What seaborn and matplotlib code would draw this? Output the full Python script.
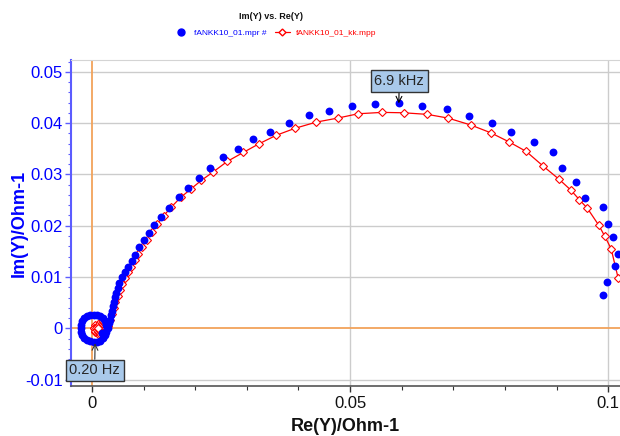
import matplotlib
matplotlib.use("Agg")
import matplotlib.pyplot as plt
from matplotlib.lines import Line2D
from matplotlib.ticker import MultipleLocator, FuncFormatter
import seaborn as sns
import pandas as pd

# ---- data: measured admittance (blue) ----
re_meas = [0.09909, 0.09986, 0.10136, 0.10200, 0.10103, 0.10000, 0.09909, 0.09560,
           0.09386, 0.09114, 0.08928, 0.08560, 0.08120, 0.07758, 0.07312, 0.06874,
           0.06395, 0.05944, 0.05490, 0.05045, 0.04599, 0.04205, 0.03818, 0.03450,
           0.03126, 0.02824, 0.02533, 0.02287, 0.02068, 0.01866, 0.01686, 0.01498,
           0.01337, 0.01207, 0.01099, 0.01008, 0.00911, 0.00833, 0.00769, 0.00703,
           0.00640, 0.00587, 0.00523, 0.00494, 0.00465, 0.00446, 0.00426, 0.00407,
           0.00388, 0.00368, 0.00349, 0.00330,
           0.00281, 0.00272, 0.00247, 0.00207, 0.00155, 0.00094, 0.00029, -0.00036,
           -0.00097, -0.00149, -0.00189, -0.00214, -0.00223, -0.00214, -0.00189, -0.00149,
           -0.00097, -0.00036, 0.00029, 0.00094, 0.00155, 0.00207, 0.00247, 0.00272,
           0.00300, 0.00310]
im_meas = [0.00649, 0.00902, 0.01208, 0.01454, 0.01773, 0.02026, 0.02364, 0.02533,
           0.02845, 0.03118, 0.03435, 0.03624, 0.03831, 0.04006, 0.04143, 0.04279,
           0.04326, 0.04384, 0.04371, 0.04326, 0.04234, 0.04150, 0.04006, 0.03831,
           0.03683, 0.03494, 0.03332, 0.03118, 0.02929, 0.02734, 0.02558, 0.02344,
           0.02169, 0.02013, 0.01851, 0.01715, 0.01578, 0.01434, 0.01317, 0.01200,
           0.01097, 0.00994, 0.00877, 0.00785, 0.00698, 0.00610, 0.00522, 0.00435,
           0.00347, 0.00259, 0.00171, 0.00103,
           0.00006, -0.00062, -0.00131, -0.00189, -0.00238, -0.00257, -0.00257, -0.00247,
           -0.00218, -0.00179, -0.00121, -0.00062, 0.00006, 0.00074, 0.00142, 0.00201,
           0.00240, 0.00269, 0.00269, 0.00259, 0.00240, 0.00201, 0.00142, 0.00074,
           0.00040, 0.00015]
re_meas_tail = [0.00230, 0.00200]
im_meas_tail = [-0.00100, -0.00085]

# ---- data: Kramers-Kronig fit (red) ----
re_kk = [0.10194, 0.10058, 0.09936, 0.09820, 0.09599, 0.09444, 0.09277, 0.09045,
         0.08740, 0.08411, 0.08076, 0.07727, 0.07345, 0.06899, 0.06498, 0.06041,
         0.05620, 0.05155, 0.04762, 0.04347, 0.03928, 0.03566, 0.03236, 0.02932,
         0.02622, 0.02351, 0.02118, 0.01913, 0.01719, 0.01531, 0.01390, 0.01260,
         0.01153, 0.01056, 0.00969, 0.00891, 0.00824, 0.00756, 0.00698, 0.00640,
         0.00581, 0.00533, 0.00494, 0.00455, 0.00417, 0.00378, 0.00349, 0.00310,
         0.00252, 0.00233, 0.00194, 0.00174, 0.00136, 0.00116, 0.00097, 0.00058,
         0.00039, 0.00078, 0.00116, 0.00155, 0.00174, 0.00213, 0.00194, 0.00155,
         0.00136, 0.00116, 0.00097, 0.00116,
         0.00186, 0.00166, 0.00116, 0.00066, 0.00046, 0.00066, 0.00116, 0.00166, 0.00116,
         0.00156, 0.00136, 0.00096, 0.00076, 0.00096, 0.00136, 0.00116]
im_kk = [0.00980, 0.01551, 0.01793, 0.02007, 0.02338, 0.02506, 0.02695, 0.02909,
         0.03163, 0.03449, 0.03636, 0.03811, 0.03961, 0.04098, 0.04170, 0.04201,
         0.04209, 0.04182, 0.04098, 0.04020, 0.03897, 0.03761, 0.03597, 0.03429,
         0.03254, 0.03051, 0.02884, 0.02714, 0.02553, 0.02358, 0.02194, 0.02032,
         0.01876, 0.01730, 0.01594, 0.01458, 0.01331, 0.01204, 0.01097, 0.00980,
         0.00863, 0.00746, 0.00629, 0.00512, 0.00396, 0.00279, 0.00162, 0.00045,
         -0.00033, -0.00062, -0.00092, -0.00101, -0.00082, -0.00111, -0.00043, -0.00072,
         0.00006, 0.00025, 0.00064, 0.00103, 0.00074, 0.00045, 0.00025, -0.00014,
         0.00025, 0.00006, -0.00014, 0.00006,
         0.00006, 0.00056, 0.00076, 0.00056, 0.00006, -0.00044, -0.00064, -0.00044, 0.00006,
         0.00006, 0.00040, 0.00040, 0.00006, -0.00028, -0.00028, 0.00006]

x_ticks = [0, 0.05, 0.1]
y_ticks = [-0.01, 0, 0.01, 0.02, 0.03, 0.04, 0.05]
series_names = ["fANKK10_01.mpr #", "fANKK10_01_kk.mpp"]
ann_hi = ("6.9 kHz", 0.05944, 0.04384)
ann_lo = ("0.20 Hz", 0.0006, -0.0029)

sns.set_style("white")
plt.rcParams["font.family"] = ["Liberation Sans", "DejaVu Sans"]

BLUE = "#0000ff"
RED = "#ff0000"
ORANGE = "#f2a35a"
GRID = "#cccccc"

fig = plt.figure(figsize=(6.2, 4.36), dpi=100)
ax = fig.add_axes([70.7 / 620, 50 / 436, 1 - 70.7 / 620, 326 / 436])

ax.set_xlim(-0.00413, 0.1023)
ax.set_ylim(-0.01124, 0.0523)

# grid + zero lines
for yv in y_ticks:
    if yv != 0:
        ax.axhline(yv, color=GRID, lw=1.0, zorder=0)
for xv in x_ticks:
    if xv != 0:
        ax.axvline(xv, color=GRID, lw=1.0, zorder=0)
ax.axhline(0, color=ORANGE, lw=1.3, zorder=0.5)
ax.axvline(0, color=ORANGE, lw=1.3, zorder=0.5)

df_m = pd.DataFrame({"re": re_meas + re_meas_tail, "im": im_meas + im_meas_tail})
df_k = pd.DataFrame({"re": re_kk, "im": im_kk})

sns.lineplot(data=df_k, x="re", y="im", ax=ax, sort=False, estimator=None,
             color=RED, lw=0.9, marker="D", markersize=4, markerfacecolor="white",
             markeredgecolor=RED, markeredgewidth=0.8, zorder=2, legend=False)
sns.scatterplot(data=df_m, x="re", y="im", ax=ax, color=BLUE, s=32,
                edgecolor=BLUE, linewidth=0, zorder=3, legend=False)

# axes styling
ax.spines["right"].set_visible(False)
ax.spines["top"].set_color("#d4d4d4")
ax.spines["left"].set_color("#5c5cff")
ax.spines["left"].set_linewidth(1.5)
ax.spines["bottom"].set_color("#555555")
ax.spines["bottom"].set_linewidth(1.2)

fmt = FuncFormatter(lambda v, p: f"{v:g}")
ax.set_xticks(x_ticks)
ax.set_yticks(y_ticks)
ax.xaxis.set_major_formatter(fmt)
ax.yaxis.set_major_formatter(fmt)
ax.xaxis.set_minor_locator(MultipleLocator(0.01))
ax.yaxis.set_minor_locator(MultipleLocator(0.002))
ax.tick_params(axis="y", which="major", direction="out", length=4, width=1,
               color="#5c5cff", labelcolor=BLUE, labelsize=12, pad=1.5, left=True)
ax.tick_params(axis="y", which="minor", direction="out", length=2.5, width=0.8,
               color="#5c5cff", left=True)
ax.tick_params(axis="x", which="major", direction="out", length=4, width=1,
               color="#333333", labelcolor="#111111", labelsize=12, pad=3, bottom=True)
ax.tick_params(axis="x", which="minor", direction="out", length=3, width=0.8,
               color="#333333", bottom=True)

ax.set_xlabel("Re(Y)/Ohm-1", fontsize=13, fontweight="bold", color="#111111")
ax.set_ylabel("Im(Y)/Ohm-1", fontsize=13, fontweight="bold", color=BLUE)
ax.xaxis.set_label_coords(0.5, -0.099)
ax.yaxis.set_label_coords(-0.079, 0.5)

# annotations
box = dict(boxstyle="square,pad=0.25", fc="#a9c9ea", ec="#333333", lw=1)
ax.annotate(ann_hi[0], xy=(ann_hi[1], ann_hi[2]), xytext=(ann_hi[1] + 0.0001, 0.0482),
            fontsize=10.5, ha="center", va="center", bbox=box, zorder=5,
            arrowprops=dict(arrowstyle="->", color="black", lw=0.8,
                            shrinkA=0, shrinkB=0))
ax.annotate(ann_lo[0], xy=(ann_lo[1], ann_lo[2]), xytext=(0.0005, -0.0082),
            fontsize=10.5, ha="center", va="center", bbox=box, zorder=5,
            arrowprops=dict(arrowstyle="->", color="#333333", lw=0.8,
                            shrinkA=0, shrinkB=0))

# title + legend
fig.text(0.437, 0.962, "Im(Y) vs. Re(Y)", fontsize=6.5, fontweight="bold",
         ha="center", va="center", color="#111111")
handles = [Line2D([], [], ls="none", marker="o", color=BLUE, markersize=5),
           Line2D([], [], color=RED, lw=0.9, marker="D", markersize=3.5,
                  markerfacecolor="white", markeredgecolor=RED)]
leg = fig.legend(handles, series_names, loc="center", bbox_to_anchor=(0.443, 0.924),
                 ncol=2, frameon=False, fontsize=6, handlelength=1.8,
                 handletextpad=0.7, columnspacing=1.0)
for t, c in zip(leg.get_texts(), [BLUE, RED]):
    t.set_color(c)

fig.savefig("out.png", dpi=100)
